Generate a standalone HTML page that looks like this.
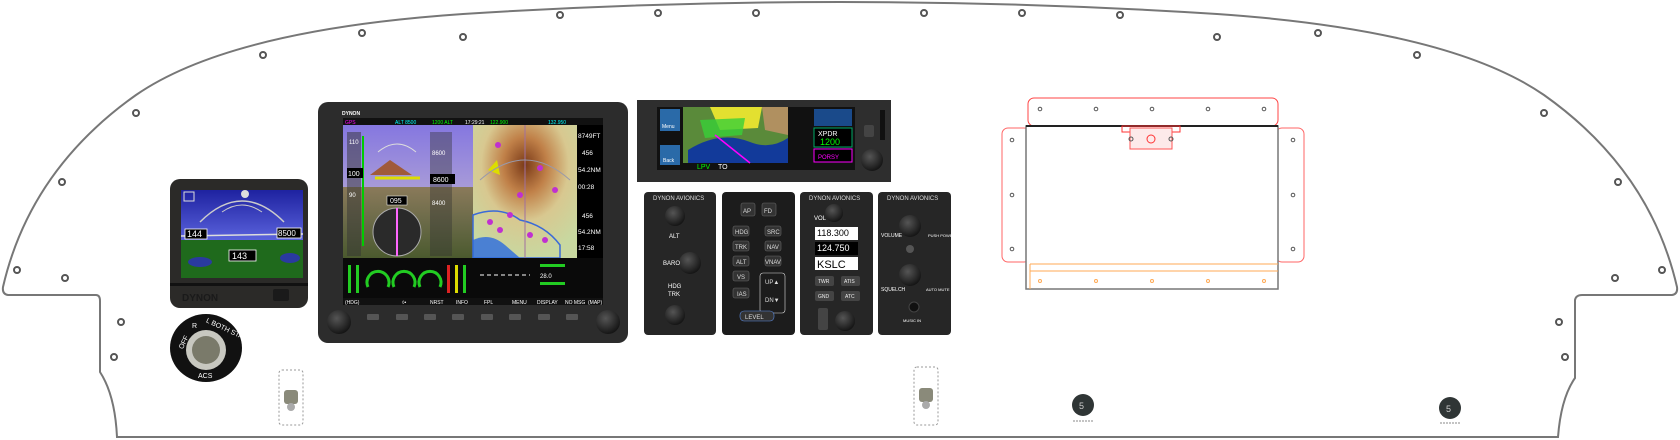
<!DOCTYPE html>
<html><head><meta charset="utf-8"><style>
html,body{margin:0;padding:0;background:#fff;}
svg{display:block;font-family:"Liberation Sans",sans-serif;}
</style></head><body>
<svg width="1680" height="440" viewBox="0 0 1680 440" xmlns="http://www.w3.org/2000/svg">
<defs>
<linearGradient id="sky" x1="0" y1="0" x2="0" y2="1"><stop offset="0" stop-color="#1e22a0"/><stop offset="1" stop-color="#5a62dc"/></linearGradient>
<linearGradient id="sky2" x1="0" y1="0" x2="0" y2="1"><stop offset="0" stop-color="#8577e0"/><stop offset="1" stop-color="#a79ad8"/></linearGradient>
<linearGradient id="gnd2" x1="0" y1="0" x2="0" y2="1"><stop offset="0" stop-color="#8a7a5a"/><stop offset="0.5" stop-color="#6a6a48"/><stop offset="1" stop-color="#4b5a2e"/></linearGradient>
<radialGradient id="map" cx="0.5" cy="0.3" r="0.7"><stop offset="0" stop-color="#7a3a18"/><stop offset="0.3" stop-color="#c08048"/><stop offset="0.6" stop-color="#d8c890"/><stop offset="1" stop-color="#c8d8a0"/></radialGradient>
<radialGradient id="knob" cx="0.4" cy="0.35" r="0.7"><stop offset="0" stop-color="#555"/><stop offset="1" stop-color="#111"/></radialGradient>
</defs>

<path d="M117,437 L1558,437 Q1561,398 1575,378 L1575,300 Q1576,295 1582,295 L1672,295 Q1678,294 1677,287 Q1650,170 1544,95 Q1450,30 1217,14 Q1030,2 840,2 Q650,2 463,14 Q230,30 136,95 Q30,170 3,287 Q2,294 8,295 L96,295 Q100,295 100,301 L100,372 Q115,395 117,437 Z" fill="#fff" stroke="#777" stroke-width="2"/>

<g fill="none" stroke="#555" stroke-width="2">
<circle cx="62" cy="182" r="3"/><circle cx="136" cy="113" r="3"/><circle cx="263" cy="55" r="3"/><circle cx="362" cy="33" r="3"/><circle cx="463" cy="37" r="3"/><circle cx="560" cy="15" r="3"/><circle cx="658" cy="13" r="3"/><circle cx="756" cy="13" r="3"/>
<circle cx="924" cy="13" r="3"/><circle cx="1022" cy="13" r="3"/><circle cx="1120" cy="15" r="3"/><circle cx="1217" cy="37" r="3"/><circle cx="1318" cy="33" r="3"/><circle cx="1417" cy="55" r="3"/><circle cx="1544" cy="113" r="3"/><circle cx="1618" cy="182" r="3"/>
<circle cx="17" cy="270" r="3"/><circle cx="65" cy="278" r="3"/><circle cx="121" cy="322" r="3"/><circle cx="114" cy="357" r="3"/>
<circle cx="1662" cy="270" r="3"/><circle cx="1615" cy="278" r="3"/><circle cx="1559" cy="322" r="3"/><circle cx="1565" cy="357" r="3"/>
</g>

<!-- small EFIS -->
<rect x="170" y="179" width="138" height="129" rx="10" fill="#2b2a28"/>
<rect x="181" y="190" width="122" height="50" fill="url(#sky)"/>
<rect x="181" y="240" width="122" height="38" fill="#1f6a1c"/>
<ellipse cx="200" cy="262" rx="12" ry="5" fill="#2a3aa0"/><ellipse cx="290" cy="258" rx="10" ry="5" fill="#2a3aa0"/>
<path d="M200,222 Q242,180 284,222" fill="none" stroke="#ccc" stroke-width="1.5"/>
<path d="M222,212 Q242,198 262,212" fill="none" stroke="#ccc" stroke-width="1"/>
<circle cx="245" cy="194" r="4" fill="#ddd"/>
<line x1="181" y1="236" x2="303" y2="234" stroke="#ddd" stroke-width="1.5"/>
<rect x="185" y="229" width="22" height="10" fill="#000" stroke="#fff" stroke-width="0.8"/>
<text x="187" y="237" font-size="9" fill="#fff">144</text>
<rect x="277" y="228" width="24" height="10" fill="#000" stroke="#fff" stroke-width="0.8"/>
<text x="278" y="236" font-size="8" fill="#fff">8500</text>
<rect x="229" y="250" width="27" height="11" fill="#000" stroke="#fff" stroke-width="0.8"/>
<text x="232" y="259" font-size="9" fill="#fff">143</text>
<rect x="184" y="192" width="10" height="9" fill="none" stroke="#ddd"/>
<rect x="170" y="283" width="138" height="3" fill="#111"/>
<text x="182" y="301" font-size="10" font-weight="bold" fill="#1a1a1a">DYNON</text>
<rect x="273" y="289" width="16" height="12" rx="2" fill="#1a1a1a"/>

<!-- ignition -->
<ellipse cx="206" cy="348" rx="36" ry="34" fill="#111"/>
<circle cx="206" cy="350" r="20" fill="#c8c8c0"/><circle cx="206" cy="350" r="14" fill="#7a7a6a"/>
<text x="178" y="350" font-size="7" fill="#fff" transform="rotate(-65 180 346)">OFF</text>
<text x="192" y="328" font-size="7" fill="#fff">R</text>
<text x="205" y="325" font-size="7" fill="#fff" transform="rotate(25 212 325)">L BOTH START</text>
<text x="198" y="378" font-size="7" fill="#fff">ACS</text>

<rect x="279" y="370" width="24" height="55" rx="3" fill="none" stroke="#999" stroke-dasharray="2,2"/>
<rect x="284" y="390" width="14" height="14" rx="3" fill="#8a8a7a"/><circle cx="291" cy="407" r="4" fill="#aaa"/>
<rect x="914" y="367" width="24" height="58" rx="3" fill="none" stroke="#999" stroke-dasharray="2,2"/>
<rect x="919" y="388" width="14" height="14" rx="3" fill="#8a8a7a"/><circle cx="926" cy="405" r="4" fill="#aaa"/>

<circle cx="1083" cy="405" r="11" fill="#2f3535"/><text x="1079" y="409" font-size="9" fill="#ccc">5</text>
<line x1="1073" y1="421" x2="1093" y2="421" stroke="#888" stroke-dasharray="2,1"/>
<circle cx="1450" cy="408" r="11" fill="#2f3535"/><text x="1446" y="412" font-size="9" fill="#ccc">5</text>
<line x1="1440" y1="423" x2="1460" y2="423" stroke="#888" stroke-dasharray="2,1"/>

<!-- big EFIS -->
<rect x="318" y="102" width="310" height="241" rx="10" fill="#2c2c2c"/>
<text x="342" y="115" font-size="5" font-weight="bold" fill="#fff">DYNON</text>
<rect x="343" y="118" width="260" height="187" fill="#000"/>
<rect x="343" y="118" width="260" height="7" fill="#111"/>
<text x="345" y="124" font-size="5" fill="#f0f">GPS</text>
<text x="395" y="124" font-size="5" fill="#0ff">ALT 8500</text>
<text x="432" y="124" font-size="5" fill="#0f0">1200 ALT</text>
<text x="465" y="124" font-size="5" fill="#fff">17:29:21</text>
<text x="490" y="124" font-size="5" fill="#0f0">122.900</text>
<text x="548" y="124" font-size="5" fill="#0ff">132.950</text>
<rect x="343" y="125" width="130" height="62" fill="url(#sky2)"/>
<rect x="343" y="187" width="130" height="71" fill="url(#gnd2)"/>
<path d="M370,175 L390,160 L412,175 Z" fill="#a05a3a"/>
<rect x="347" y="132" width="14" height="124" fill="#333" opacity="0.5"/>
<rect x="362" y="136" width="2" height="110" fill="#0c0"/>
<rect x="430" y="132" width="22" height="124" fill="#333" opacity="0.4"/>
<rect x="347" y="168" width="16" height="10" fill="#000"/><text x="348" y="176" font-size="7" fill="#fff">100</text>
<rect x="430" y="174" width="25" height="10" fill="#000"/><text x="433" y="182" font-size="7" fill="#fff">8600</text>
<text x="349" y="144" font-size="6" fill="#fff">110</text><text x="349" y="197" font-size="6" fill="#fff">90</text>
<text x="432" y="155" font-size="6" fill="#fff">8600</text><text x="432" y="205" font-size="6" fill="#fff">8400</text>
<path d="M378,152 Q397,136 416,152" fill="none" stroke="#ddd"/>
<circle cx="397" cy="232" r="24" fill="#2a2a2a" stroke="#aaa"/>
<line x1="397" y1="208" x2="397" y2="256" stroke="#f6f" stroke-width="2"/>
<rect x="387" y="196" width="20" height="9" fill="#000" stroke="#fff" stroke-width="0.5"/><text x="390" y="203" font-size="7" fill="#fff">095</text>
<path d="M375,178 L420,178" stroke="#dd0" stroke-width="3"/>
<rect x="473" y="125" width="104" height="133" fill="url(#map)"/>
<path d="M473,215 Q500,205 520,220 Q545,225 560,245 L560,258 L473,258 Z" fill="none" stroke="#3a6ad8" stroke-width="1.5"/>
<path d="M473,240 Q490,232 505,245 L520,258 L473,258 Z" fill="#2a6ae0" opacity="0.8"/>
<g fill="#c030d0"><circle cx="498" cy="145" r="3"/><circle cx="540" cy="168" r="3"/><circle cx="555" cy="190" r="3"/><circle cx="490" cy="222" r="3"/><circle cx="500" cy="230" r="3"/><circle cx="510" cy="215" r="3"/><circle cx="530" cy="235" r="3"/><circle cx="545" cy="240" r="3"/><circle cx="520" cy="195" r="3"/></g>
<path d="M488,170 L497,160 L500,175 Z" fill="#dd0"/>
<line x1="525" y1="125" x2="525" y2="258" stroke="#a070a0"/>
<path d="M480,180 Q525,140 570,180" fill="none" stroke="#99a" stroke-width="1"/>
<rect x="577" y="125" width="26" height="133" fill="#000"/>
<g font-size="6.5" fill="#fff"><text x="578" y="138">8749FT</text><text x="582" y="155">456</text><text x="578" y="172">54.2NM</text><text x="578" y="189">00:28</text><text x="582" y="218">456</text><text x="578" y="234">54.2NM</text><text x="578" y="250">17:58</text></g>
<rect x="343" y="258" width="260" height="40" fill="#0a0a0a"/>
<g fill="none" stroke-width="3"><path d="M368,287 A11,11 0 1 1 388,287" stroke="#2c2"/><path d="M394,287 A11,11 0 1 1 414,287" stroke="#2c2"/><path d="M420,287 A11,11 0 1 1 440,287" stroke="#2c2"/></g>
<rect x="348" y="265" width="3" height="28" fill="#2c2"/><rect x="356" y="265" width="3" height="28" fill="#2c2"/>
<rect x="447" y="265" width="3" height="28" fill="#d22"/><rect x="455" y="265" width="3" height="28" fill="#dd0"/><rect x="463" y="265" width="3" height="28" fill="#2c2"/>
<line x1="480" y1="275" x2="530" y2="275" stroke="#fff" stroke-dasharray="4,3"/>
<rect x="540" y="264" width="25" height="3" fill="#2c2"/><rect x="540" y="282" width="25" height="3" fill="#2c2"/>
<text x="540" y="278" font-size="6" fill="#fff">28.0</text>
<rect x="343" y="298" width="260" height="7" fill="#111"/>
<g font-size="5" fill="#fff"><text x="345" y="304">(HDG)</text><text x="402" y="304">◊•</text><text x="430" y="304">NRST</text><text x="456" y="304">INFO</text><text x="484" y="304">FPL</text><text x="512" y="304">MENU</text><text x="537" y="304">DISPLAY</text><text x="565" y="304">NO MSG</text><text x="588" y="304">(MAP)</text></g>
<g fill="#555"><rect x="367" y="314" width="12" height="6" rx="1"/><rect x="396" y="314" width="12" height="6" rx="1"/><rect x="424" y="314" width="12" height="6" rx="1"/><rect x="452" y="314" width="12" height="6" rx="1"/><rect x="481" y="314" width="12" height="6" rx="1"/><rect x="509" y="314" width="12" height="6" rx="1"/><rect x="538" y="314" width="12" height="6" rx="1"/><rect x="566" y="314" width="12" height="6" rx="1"/></g>
<circle cx="339" cy="322" r="12" fill="url(#knob)"/><circle cx="608" cy="322" r="12" fill="url(#knob)"/>

<!-- GTN -->
<rect x="637" y="100" width="254" height="82" fill="#2e2e2e"/>
<rect x="657" y="107" width="198" height="63" fill="#111"/>
<rect x="683" y="107" width="105" height="56" fill="#5a8a3a"/>
<path d="M710,107 L762,107 L758,128 L720,130 Z" fill="#e3e030"/>
<path d="M700,120 L745,118 L742,135 L705,138 Z" fill="#38d038" opacity="0.8"/>
<path d="M762,107 L788,107 L788,135 L765,130 Z" fill="#b09060"/>
<path d="M688,150 Q720,130 750,142 Q770,150 788,138 L788,163 L688,163 Z" fill="#123a9a"/>
<line x1="715" y1="135" x2="750" y2="163" stroke="#f0f" stroke-width="1.5"/>
<rect x="660" y="109" width="20" height="22" fill="#2a6aa8"/><rect x="660" y="145" width="20" height="20" fill="#2a6aa8"/>
<text x="662" y="128" font-size="5" fill="#fff">Menu</text><text x="663" y="162" font-size="5" fill="#fff">Back</text>
<rect x="814" y="109" width="38" height="17" fill="#1a4a8a"/>
<rect x="814" y="128" width="38" height="19" fill="#000" stroke="#0a6"/><text x="818" y="136" font-size="7" fill="#fff">XPDR</text><text x="820" y="145" font-size="9" fill="#0f0">1200</text>
<rect x="814" y="149" width="38" height="13" fill="#000" stroke="#f0f"/><text x="818" y="159" font-size="6" fill="#f0f">PORSY</text>
<text x="697" y="169" font-size="7" fill="#0f0">LPV</text><text x="718" y="169" font-size="7" fill="#fff">TO</text>
<circle cx="872" cy="160" r="11" fill="url(#knob)"/>
<rect x="864" y="125" width="10" height="12" rx="2" fill="#444"/>
<rect x="880" y="110" width="5" height="30" fill="#111"/>

<!-- control panels -->
<rect x="644" y="192" width="72" height="143" rx="4" fill="#262626"/>
<text x="653" y="200" font-size="6" fill="#ddd">DYNON AVIONICS</text>
<circle cx="675" cy="216" r="10" fill="url(#knob)"/><text x="669" y="238" font-size="6" fill="#fff">ALT</text>
<circle cx="690" cy="263" r="11" fill="url(#knob)"/><text x="663" y="265" font-size="6" fill="#fff">BARO</text>
<text x="668" y="288" font-size="6" fill="#fff">HDG</text><text x="668" y="296" font-size="6" fill="#fff">TRK</text>
<circle cx="675" cy="315" r="10" fill="url(#knob)"/>

<rect x="722" y="192" width="73" height="143" rx="4" fill="#1c1c1c"/>
<g fill="#333" stroke="#666" stroke-width="0.6"><rect x="741" y="203" width="14" height="13" rx="2"/><rect x="762" y="203" width="14" height="13" rx="2"/><rect x="733" y="226" width="16" height="10" rx="2"/><rect x="765" y="226" width="16" height="10" rx="2"/><rect x="733" y="241" width="16" height="10" rx="2"/><rect x="765" y="241" width="16" height="10" rx="2"/><rect x="733" y="256" width="16" height="10" rx="2"/><rect x="765" y="256" width="16" height="10" rx="2"/><rect x="733" y="271" width="16" height="10" rx="2"/><rect x="733" y="288" width="16" height="10" rx="2"/><rect x="760" y="273" width="25" height="40" rx="3" fill="none" stroke="#ddd"/><rect x="740" y="311" width="34" height="10" rx="4" stroke="#5a8ae0"/></g>
<g font-size="6" fill="#ddd"><text x="743" y="213">AP</text><text x="764" y="213">FD</text><text x="735" y="234">HDG</text><text x="767" y="234">SRC</text><text x="735" y="249">TRK</text><text x="767" y="249">NAV</text><text x="736" y="264">ALT</text><text x="765" y="264">VNAV</text><text x="737" y="279">VS</text><text x="737" y="296">IAS</text><text x="765" y="284">UP▲</text><text x="765" y="302">DN▼</text><text x="745" y="319">LEVEL</text></g>

<rect x="800" y="192" width="73" height="143" rx="4" fill="#262626"/>
<text x="809" y="200" font-size="6" fill="#ddd">DYNON AVIONICS</text>
<circle cx="834" cy="213" r="9" fill="url(#knob)"/><text x="814" y="220" font-size="6" fill="#fff">VOL</text>
<rect x="815" y="227" width="43" height="13" fill="#fff"/><text x="817" y="236" font-size="9" fill="#000">118.300</text>
<rect x="815" y="242" width="43" height="13" fill="#000"/><text x="817" y="251" font-size="9" fill="#fff">124.750</text>
<rect x="815" y="257" width="43" height="13" fill="#fff"/><text x="817" y="268" font-size="11" fill="#000">KSLC</text>
<g fill="#444"><rect x="815" y="276" width="19" height="10" rx="2"/><rect x="841" y="276" width="19" height="10" rx="2"/><rect x="815" y="291" width="19" height="10" rx="2"/><rect x="841" y="291" width="19" height="10" rx="2"/><rect x="818" y="308" width="10" height="22" rx="2"/></g>
<g font-size="5" fill="#eee"><text x="818" y="283">TWR</text><text x="844" y="283">ATIS</text><text x="818" y="298">GND</text><text x="845" y="298">ATC</text></g>
<circle cx="845" cy="321" r="10" fill="url(#knob)"/>

<rect x="878" y="192" width="73" height="143" rx="4" fill="#262626"/>
<text x="887" y="200" font-size="6" fill="#ddd">DYNON AVIONICS</text>
<circle cx="910" cy="226" r="11" fill="url(#knob)"/><text x="881" y="237" font-size="5" fill="#fff">VOLUME</text><text x="928" y="237" font-size="4" fill="#fff">PUSH POWER</text>
<circle cx="910" cy="249" r="4" fill="#555"/>
<circle cx="910" cy="275" r="11" fill="url(#knob)"/><text x="881" y="291" font-size="5" fill="#fff">SQUELCH</text><text x="926" y="291" font-size="4" fill="#fff">AUTO MUTE</text>
<circle cx="914" cy="307" r="5" fill="#111" stroke="#444"/><text x="903" y="322" font-size="4" fill="#fff">MUSIC IN</text>

<!-- right outlined box -->
<rect x="1028" y="98" width="250" height="28" rx="6" fill="none" stroke="#f44" stroke-width="1"/>
<rect x="1002" y="128" width="28" height="134" rx="6" fill="none" stroke="#f66" stroke-width="1"/>
<rect x="1276" y="128" width="28" height="134" rx="6" fill="none" stroke="#f66" stroke-width="1"/>
<rect x="1026" y="126" width="252" height="163" fill="#fff" stroke="#777" stroke-width="1.5"/>
<line x1="1026" y1="126" x2="1278" y2="126" stroke="#222" stroke-width="2"/>
<rect x="1122" y="126" width="58" height="6" fill="none" stroke="#f33"/>
<rect x="1130" y="128" width="42" height="21" fill="#fdeaea" stroke="#f55"/>
<circle cx="1151" cy="139" r="4" fill="none" stroke="#f33"/>
<line x1="1030" y1="264" x2="1278" y2="264" stroke="#fa5"/><line x1="1030" y1="271" x2="1278" y2="271" stroke="#fa5"/>
<line x1="1030" y1="264" x2="1030" y2="289" stroke="#fa5"/>
<g fill="none" stroke="#555" stroke-width="1"><circle cx="1040" cy="109" r="1.8"/><circle cx="1096" cy="109" r="1.8"/><circle cx="1152" cy="109" r="1.8"/><circle cx="1208" cy="109" r="1.8"/><circle cx="1264" cy="109" r="1.8"/><circle cx="1012" cy="140" r="1.8"/><circle cx="1012" cy="195" r="1.8"/><circle cx="1012" cy="249" r="1.8"/><circle cx="1293" cy="140" r="1.8"/><circle cx="1293" cy="195" r="1.8"/><circle cx="1293" cy="249" r="1.8"/><circle cx="1131" cy="139" r="2"/><circle cx="1171" cy="139" r="2"/></g>
<g fill="none" stroke="#fa5" stroke-width="1"><circle cx="1040" cy="281" r="1.5"/><circle cx="1096" cy="281" r="1.5"/><circle cx="1152" cy="281" r="1.5"/><circle cx="1208" cy="281" r="1.5"/><circle cx="1264" cy="281" r="1.5"/></g>
</svg>
</body></html>
